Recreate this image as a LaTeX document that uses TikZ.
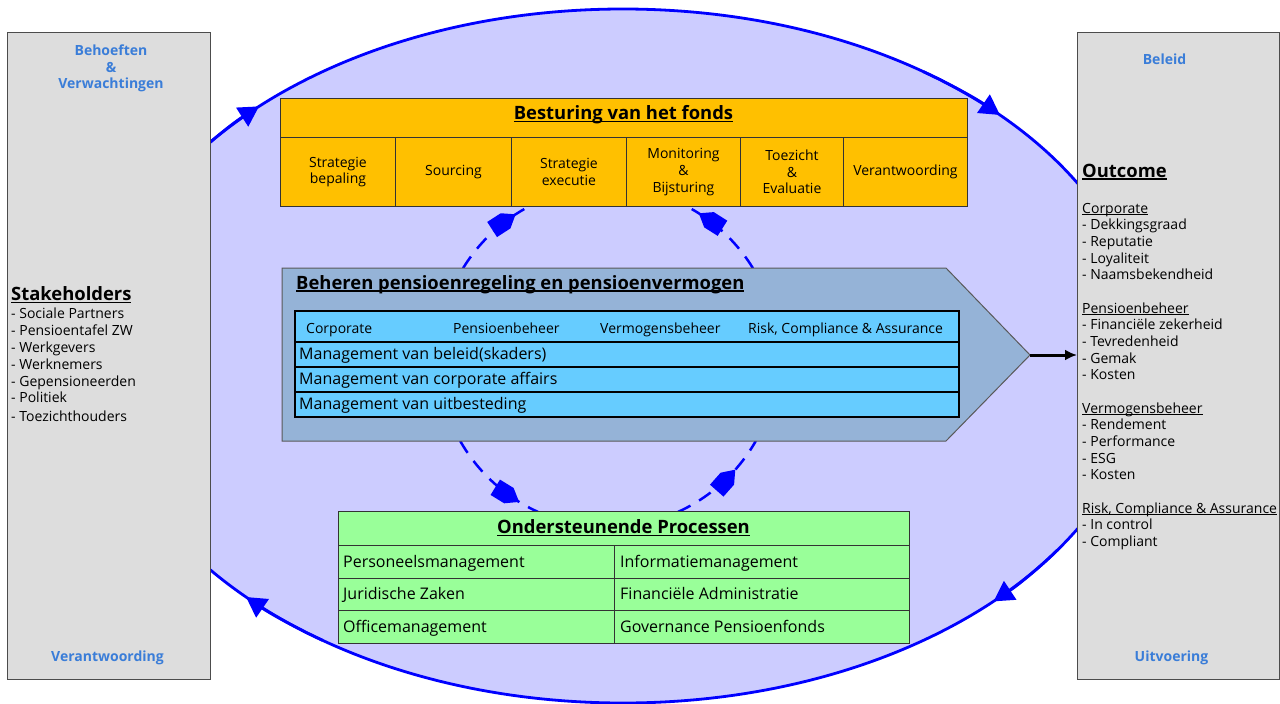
\documentclass[tikz,border=0pt]{standalone}
\usepackage{fontspec}
\setmainfont{Open Sans}
\usetikzlibrary{arrows.meta,decorations.markings}
\definecolor{ellfill}{HTML}{CCCCFF}
\definecolor{panelgray}{HTML}{DDDDDD}
\definecolor{labelblue}{HTML}{3A7DD8}
\definecolor{orangebox}{HTML}{FFC000}
\definecolor{chevfill}{HTML}{95B3D7}
\definecolor{skyrow}{HTML}{66CCFF}
\definecolor{greenbox}{HTML}{99FF99}
\newcommand\myul[1]{\setbox0\hbox{#1}\rlap{\rule[-0.14em]{\wd0}{0.075em}}\box0}
\newcommand\fsmall{\fontsize{14}{16.67}\selectfont}
\newcommand\fmid{\fontsize{16}{19}\selectfont}
\newcommand\fbig{\fontsize{18.4}{21}\selectfont\bfseries}
\begin{document}
\begin{tikzpicture}[x=1pt,y=-1pt,
  ellline/.style={draw=blue, line width=2.8pt},
  dasharc/.style={draw=blue, line width=2.5pt, dash pattern=on 14pt off 10pt},
  panel/.style={draw=black!70, line width=1.2pt, fill=panelgray, inner sep=0, anchor=north west},
  bluelbl/.style={text=labelblue, font=\fsmall\bfseries, inner sep=0, anchor=base},
  listtxt/.style={font=\fsmall, anchor=base west, inner sep=0},
  bigtxt/.style={font=\fbig, inner sep=0},
  orangecell/.style={draw=black!80, line width=0.9pt, fill=orangebox, inner sep=0, anchor=north west, font=\fsmall, align=center},
  skycell/.style={draw=black, line width=2pt, fill=skyrow, inner sep=0, anchor=north west},
  greencell/.style={draw=black!80, line width=0.9pt, fill=greenbox, inner sep=0, anchor=north west},
  rowtxt/.style={font=\fmid, anchor=base west, inner sep=0},
  plug/.style={postaction={decorate}, decoration={markings, mark=at position #1 with {\fill[blue] (0,0) -- (-12,9) -- (-28,9) -- (-28,-9) -- (-12,-9) -- cycle;}}}
]
\fill[white] (0,0) rectangle (1280,704);
\useasboundingbox (0,0) rectangle (1280,704);

% big ellipse
\coordinate (ec) at (623,356);
\fill[ellfill] (ec) ellipse [x radius=524, y radius=347];
\draw[ellline] (ec) ellipse [x radius=524, y radius=347];
\foreach \a in {215,305,34,125}
  \draw[ellline,-{Triangle[length=20pt,width=22pt]}] (ec) ++(\a:524 and 347) arc[start angle=\a, end angle=\a+11, x radius=524, y radius=347];

% dashed circular connectors
\coordinate (cc) at (608,357);
\draw[dasharc, plug=0.82] (cc) ++(211.5:170) arc[start angle=211.5, end angle=242.7, radius=170];
\draw[dasharc, plug=0.84] (cc) ++(328.5:170) arc[start angle=328.5, end angle=297.3, radius=170];
\draw[dasharc, plug=0.80] (cc) ++(150.4:170) arc[start angle=150.4, end angle=114.3, radius=170];
\draw[dasharc, plug=0.67] (cc) ++(65.7:170) arc[start angle=65.7, end angle=29.6, radius=170];

% side panels
\node[panel, minimum width=203, minimum height=647] (leftpanel) at (7,32) {};
\node[panel, minimum width=202, minimum height=647] (rightpanel) at (1077,32) {};

\node[bluelbl] (beh1) at (111,55) {Behoeften};
\node[bluelbl] (beh2) at (111,72) {\&};
\node[bluelbl] (beh3) at (111,88.5) {Verwachtingen};
\node[bluelbl] (verantw) at (107.5,661.5) {Verantwoording};
\node[bluelbl] (beleid) at (1164.5,64) {Beleid};
\node[bluelbl] (uitv) at (1171.5,661) {Uitvoering};

\node[bigtxt, anchor=base west] (stake) at (11,300.5) {\myul{Stakeholders}};
\foreach \y/\t [count=\i] in {318.5/Sociale Partners, 335.5/Pensioentafel ZW, 352.5/Werkgevers, 369.5/Werknemers, 386/Gepensioneerden, 402.5/Politiek, 421/Toezichthouders}
  \node[listtxt] (sh\i) at (11,\y) {- \t};

\node[bigtxt, anchor=base west] (outcome) at (1082,177) {\myul{Outcome}};
\foreach \k/\t in {0/Corporate, 6/Pensioenbeheer, 12/Vermogensbeheer, 18/{Risk, Compliance \& Assurance}}
  \node[listtxt] (rh\k) at (1082,{213+16.67*\k}) {\myul{\t}};
\foreach \k/\t in {1/Dekkingsgraad, 2/Reputatie, 3/Loyaliteit, 4/Naamsbekendheid, 7/Financiële zekerheid, 8/Tevredenheid, 9/Gemak, 10/Kosten, 13/Rendement, 14/Performance, 15/ESG, 16/Kosten, 19/In control, 20/Compliant}
  \node[listtxt] (ri\k) at (1082,{213+16.67*\k}) {- \t};

% top box
\node[orangecell, minimum width=687, minimum height=39] (besturing) at (280,98) {};
\node[bigtxt, anchor=base] (besturingtxt) at (623.5,119.5) {\myul{Besturing van het fonds}};
\foreach \x/\w/\t [count=\i] in {280/115/{Strategie\\bepaling}, 395/116/Sourcing, 511/115/{Strategie\\executie}, 626/114/{Monitoring\\\&\\Bijsturing}, 740/103/{Toezicht\\\&\\Evaluatie}, 843/124/Verantwoording}
  \node[orangecell, minimum width=\w, minimum height=69] (tc\i) at (\x,137) {\t};

% middle chevron
\coordinate (chevtl) at (282,268);
\coordinate (chevtip) at (1030,355);
\draw[fill=chevfill, draw=black!65, line width=1pt] (chevtl) -- (946,268) -- (chevtip) -- (946,441) -- (282,441) -- cycle;
\node[bigtxt, anchor=base west] (behtitle) at (296,289) {\myul{Beheren pensioenregeling en pensioenvermogen}};
\node[skycell, minimum width=664, minimum height=31] (hdr) at (294,310) {};
\node[skycell, minimum width=664, minimum height=25] (row1) at (294,341) {};
\node[skycell, minimum width=664, minimum height=25] (row2) at (294,366) {};
\node[skycell, minimum width=664, minimum height=25] (row3) at (294,391) {};
\foreach \x/\t [count=\i] in {306/Corporate, 453/Pensioenbeheer, 600/Vermogensbeheer, 748/{Risk, Compliance \& Assurance}}
  \node[listtxt] (hl\i) at (\x,333) {\t};
\node[rowtxt] (r1t) at (299,359.5) {Management van beleid(skaders)};
\node[rowtxt] (r2t) at (299,384) {Management van corporate affairs};
\node[rowtxt] (r3t) at (299,409) {Management van uitbesteding};

% bottom box
\node[greencell, minimum width=571, minimum height=34] (onder) at (338,511) {};
\node[bigtxt, anchor=base] (ondertxt) at (623.5,533.5) {\myul{Ondersteunende Processen}};
\foreach \y/\a/\b [count=\i] in {545/Personeelsmanagement/Informatiemanagement, 577.5/Juridische Zaken/Financiële Administratie, 610/Officemanagement/Governance Pensioenfonds}
{
  \node[greencell, minimum width=276, minimum height=32.5] (gl\i) at (338,\y) {};
  \node[greencell, minimum width=295, minimum height=32.5] (gr\i) at (614,\y) {};
  \node[rowtxt] (glt\i) at (343,{\y+22}) {\a};
  \node[rowtxt] (grt\i) at (620,{\y+22}) {\b};
}

% output arrow
\draw[line width=3pt, -{Latex[length=12pt,width=11pt]}] (chevtip) -- (rightpanel.west |- chevtip);
\end{tikzpicture}
\end{document}
